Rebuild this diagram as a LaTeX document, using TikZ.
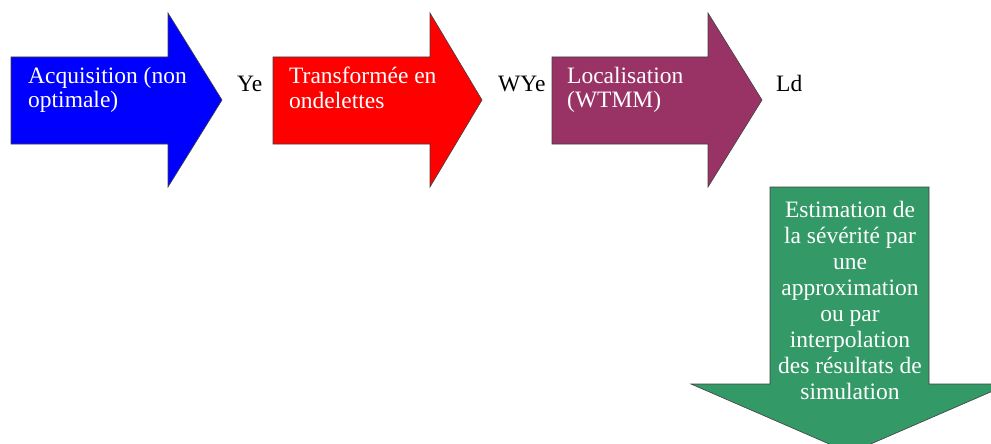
\documentclass[tikz,border=0pt]{standalone}
\usepackage{fontspec}
\setmainfont{Liberation Serif}
\usepackage{xcolor}
\usepackage{tikz}
\usetikzlibrary{positioning}

\definecolor{acqblue}{RGB}{0,0,255}
\definecolor{tfred}{RGB}{255,0,0}
\definecolor{locplum}{RGB}{153,51,102}
\definecolor{estgreen}{RGB}{51,153,102}

\begin{document}
\begin{tikzpicture}[
    x=1pt, y=-1pt,
    % ---- Flèches (corps) ----
    flow/.style={draw=black!75, line width=0.6pt},
    % ---- Texte dans les flèches ----
    inside/.style={
        text=white,
        font=\fontsize{23.5}{24.4}\selectfont,
        inner sep=0pt
    },
    % ---- Signaux entre les étapes ----
    sig/.style={
        font=\fontsize{23.5}{24.4}\selectfont,
        inner sep=0pt,
        anchor=base west
    }
]

\useasboundingbox (0,0) rectangle (991,444);
\clip (0,0) rectangle (991,444);

% ---- Flèche horizontale : couleur, gauche, base de la pointe, pointe ----
\newcommand{\flowarrow}[4]{%
    \draw[flow, fill=#1] (#2,57) -- (#3,57) -- (#3,13) -- (#4,100)
        -- (#3,187) -- (#3,144) -- (#2,144) -- cycle;}

% ---------- ROW 1: acquisition, transformée, localisation ----------
\flowarrow{acqblue}{11}{168}{222}
\flowarrow{tfred}{273}{430}{482}
\flowarrow{locplum}{552}{708}{762}

\node[inside, align=left, anchor=north west] (Acq) at (28, 67)
    {Acquisition (non\\optimale)};
\node[inside, align=left, anchor=north west] (Tf) at (289, 67)
    {Transformée en\\ondelettes};
\node[inside, align=left, anchor=north west] (Loc) at (567, 67)
    {Localisation\\(WTMM)};

\node[sig] (Ye)  at (237, 92) {Ye};
\node[sig] (WYe) at (498, 92) {WYe};
\node[sig] (Ld)  at (776, 92) {Ld};

% ---------- ROW 2: estimation (flèche vers le bas) ----------
\draw[flow, fill=estgreen] (770,187) -- (929,187) -- (929,384) -- (1009,384)
    -- (850,453) -- (691,384) -- (770,384) -- cycle;

\node[inside, font=\fontsize{23.5}{26}\selectfont, align=center, anchor=north]
    (Est) at (850, 201)
    {Estimation de\\la sévérité par\\une\\approximation\\ou par\\interpolation\\des résultats de\\simulation};

\end{tikzpicture}
\end{document}
